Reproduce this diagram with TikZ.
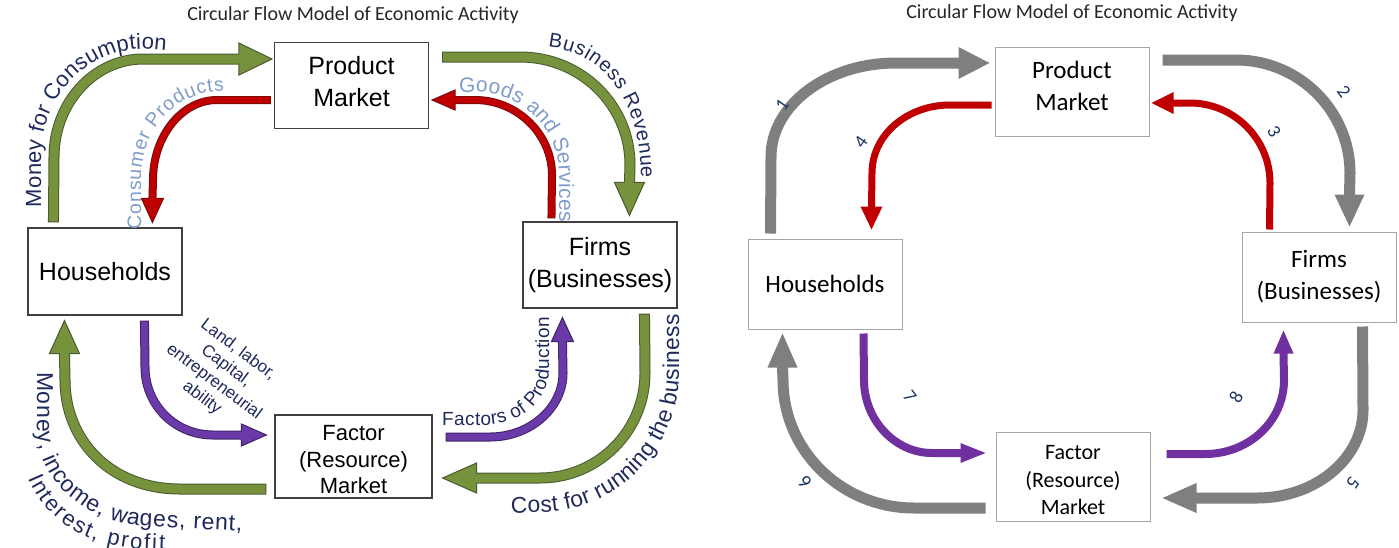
\documentclass[tikz,border=0pt]{standalone}
\usepackage{fontspec}
\setmainfont{Liberation Sans}
\newfontfamily\calfont{Carlito}
\usetikzlibrary{calc,decorations.text}
\definecolor{gfill}{HTML}{76923C}
\definecolor{gline}{HTML}{4A5A30}
\definecolor{rfill}{HTML}{C00000}
\definecolor{rline}{HTML}{7A0A0A}
\definecolor{pfill}{HTML}{6A3AA8}
\definecolor{pline}{HTML}{40226A}
\definecolor{navy}{HTML}{1F2A5C}
\definecolor{lblue}{HTML}{7F9CCB}
\definecolor{greyarr}{HTML}{7F7F7F}
\definecolor{rpurple}{HTML}{7030A0}
\definecolor{numcol}{HTML}{203864}
\newcommand\fs[2]{\fontsize{#1}{#2}\selectfont}
\newcommand\arrhead[5]{\begin{scope}[shift={(#2)},rotate=#3]\filldraw[#1] (0,0) -- (-#5,#4) -- (-#5,-#4) -- cycle;\end{scope}}
% padding to nudge box text
\newcommand\dn[1]{\rule[-#1]{0pt}{#1}}
\newcommand\tp[1]{\rule{0pt}{#1}}
\tikzset{
  gsh/.style={draw=gline, line width=11pt, postaction={draw=gfill, line width=9pt, shorten <=1pt, shorten >=-1.5pt}},
  ghd/.style={fill=gfill, draw=gline, line width=1pt, line join=miter},
  rsh/.style={draw=rline, line width=8pt, postaction={draw=rfill, line width=6pt, shorten <=1pt, shorten >=-1.5pt}},
  rhd/.style={fill=rfill, draw=rline, line width=1pt, line join=miter},
  psh/.style={draw=pline, line width=9pt, postaction={draw=pfill, line width=7pt, shorten <=1pt, shorten >=-1.5pt}},
  phd/.style={fill=pfill, draw=pline, line width=1pt, line join=miter},
  gysh/.style={draw=greyarr, line width=11pt, shorten >=-0.5pt},
  gyhd/.style={fill=greyarr, draw=none},
  rrsh/.style={draw=rfill, line width=7pt, shorten >=-0.5pt},
  rrhd/.style={fill=rfill, draw=none},
  prsh/.style={draw=rpurple, line width=8pt, shorten >=-0.5pt},
  prhd/.style={fill=rpurple, draw=none},
  lbox/.style={draw=black!75, line width=1.1pt, fill=white, minimum width=154pt, minimum height=86pt, align=center, inner sep=0pt, font=\fs{25}{32}},
  rbox/.style={draw=black!35, line width=1pt, fill=white, minimum width=154pt, minimum height=89pt, align=center, inner sep=0pt, font=\calfont\fs{25}{32}},
  ttl/.style={font=\calfont\fs{20}{24}, text=black!85},
  num/.style={font=\calfont\fs{19}{22}, text=numcol},
  curved/.style n args={3}{decorate, decoration={text along path, text={|\fs{#1}{#1}|#2}, text color=#3, text align={fit to path}}},
}
\begin{document}
\begin{tikzpicture}[x=1pt,y=-1pt]
\useasboundingbox[fill=white] (0,0) rectangle (1399,547);
% ---------------- left diagram ----------------
\node[ttl] (titleL) at (353,15) {Circular Flow Model of Economic Activity};
\node[lbox] (pmL) at (351.5,85.5) {Product\\Market\dn{9pt}};
\node[lbox, minimum height=87pt] (hhL) at (105,271.5) {Households};
\node[lbox] (fmL) at (600,265) {Firms\\(Businesses)};
\node[lbox, minimum width=157pt, minimum height=83pt, font=\fs{22}{26.5}] (fcL) at (353.5,456.5) {\tp{22pt}Factor\\(Resource)\\Market};

% G1 money for consumption
\coordinate (g1s) at ($(hhL.north west)+(26,-5)$);
\coordinate (g1t) at ($(pmL.west)+(-2,-26.5)$);
\arrhead{ghd}{g1t}{0}{16}{33}
\draw[gsh] (g1s) -- (54,157) .. controls (54,103) and (94,59) .. (143,59) -- ($(g1t)+(-33,0)$);
% R1 consumer products
\coordinate (r1s) at ($(pmL.west)+(-3,14.5)$);
\coordinate (r1t) at ($(hhL.north west)+(125,-5)$);
\arrhead{rhd}{r1t}{-90}{11}{24}
\draw[rsh] (r1s) -- (217,100) .. controls (182,100) and (153,136) .. (153,180) -- ($(r1t)+(0,-24)$);
% G2 business revenue
\coordinate (g2s) at ($(pmL.east)+(13,-28.5)$);
\coordinate (g2t) at ($(fmL.north west)+(107,-6)$);
\arrhead{ghd}{g2t}{-90}{15}{33}
\draw[gsh] (g2s) -- (520,57) .. controls (581,57) and (630,105) .. (630,165) -- ($(g2t)+(0,-33)$);
% R2 goods and services
\coordinate (r2s) at ($(fmL.north west)+(29,-3)$);
\coordinate (r2t) at ($(pmL.east)+(3,14.5)$);
\arrhead{rhd}{r2t}{180}{10}{23}
\draw[rsh] (r2s) -- (552,175) .. controls (552,134) and (517,100) .. (475,100) -- ($(r2t)+(23,0)$);
% P1 land labor
\coordinate (p1s) at ($(hhL.south west)+(117,5)$);
\coordinate (p1t) at ($(fcL.west)+(-8,-21.5)$);
\arrhead{phd}{p1t}{0}{11}{25}
\draw[psh] (p1s) -- (145,367) .. controls (145,405) and (175,435) .. (213,435) -- ($(p1t)+(-25,0)$);
% P2 factors of production
\coordinate (p2s) at ($(fcL.east)+(13,-19.5)$);
\coordinate (p2t) at ($(fmL.south west)+(40,9)$);
\arrhead{phd}{p2t}{90}{11}{24}
\draw[psh] (p2s) -- (490,437) .. controls (530,437) and (563,408) .. (563,373) -- ($(p2t)+(0,24)$);
% G3 cost
\coordinate (g3s) at ($(fmL.south west)+(122,5)$);
\coordinate (g3t) at ($(fcL.east)+(10,21.5)$);
\arrhead{ghd}{g3t}{180}{15}{34}
\draw[gsh] (g3s) -- (645,373) .. controls (645,431) and (598,478) .. (540,478) -- ($(g3t)+(34,0)$);
% G4 money income
\coordinate (g4s) at ($(fcL.west)+(-8,32.5)$);
\coordinate (g4t) at ($(hhL.south west)+(37,5)$);
\arrhead{ghd}{g4t}{90}{15}{33}
\draw[gsh] (g4s) -- (180,489) .. controls (110,489) and (65,440) .. (65,380) -- ($(g4t)+(0,33)$);

% curved labels
\path[curved={22}{Money for Consumption}{navy}]
  (41,207) -- (41,157) .. controls (41,96) and (88,49) .. (143,49) -- (166,51);
\path[curved={19.5}{Consumer Products}{lblue}]
  (141,229) -- (141,180) .. controls (141,129) and (175,91) .. (224,91);
\path[curved={20}{Business Revenue}{navy}]
  (548,47) .. controls (603,52) and (641,100) .. (641,178);
\path[curved={21}{Goods and Services}{lblue}]
  (459,92) -- (475,92) .. controls (522,92) and (559,129) .. (559,175) -- (559,222);
\path[curved={22.8}{Cost for running the business}{navy}]
  (511,513) -- (540,512) .. controls (617,512) and (679,449) .. (679,373) -- (679,314);
\path[curved={23}{Money, income, wages, rent,}{navy}]
  (37,372) -- (37,425) .. controls (37,480) and (80,518) .. (140,526) -- (242,531);
\path[curved={22}{Interest, profit}{navy}]
  (28,478) .. controls (45,520) and (85,545) .. (140,549) -- (165,550);
\path[curved={19}{Factors of Production}{navy}]
  (442,425) -- (485,425) .. controls (520,425) and (549,400) .. (549,370) -- (549,317);
\node[rotate=-37, align=center, font=\fs{17}{20}, text=navy] (landtxt) at (220,374) {Land, labor,\\Capital,\\entrepreneurial\\ability};

% ---------------- right diagram ----------------
\node[ttl] (titleR) at (1072,13) {Circular Flow Model of Economic Activity};
\node[rbox] (pmR) at (1072,91.5) {Product\\Market\dn{11pt}};
\node[rbox, minimum height=90pt] (hhR) at (825,284) {Households};
\node[rbox, minimum height=90pt] (fmR) at (1319,277) {Firms\\(Businesses)};
\node[rbox, font=\calfont\fs{22}{27.5}] (fcR) at (1073,476.5) {\tp{22pt}Factor\\(Resource)\\Market};

% 1
\coordinate (a1s) at ($(hhR.north west)+(23,-5)$);
\coordinate (a1t) at ($(pmR.west)+(-5,-28.5)$);
\arrhead{gyhd}{a1t}{0}{16}{31}
\draw[gysh] (a1s) -- (771,157) .. controls (771,105) and (827,63) .. (896,63) -- ($(a1t)+(-31,0)$);
% 2
\coordinate (a2s) at ($(pmR.east)+(13,-31.5)$);
\coordinate (a2t) at ($(fmR.north west)+(108,-5)$);
\arrhead{gyhd}{a2t}{-90}{15}{32}
\draw[gysh] (a2s) -- (1236,60) .. controls (1299,60) and (1350,111) .. (1350,173) -- ($(a2t)+(0,-32)$);
% 3
\coordinate (a3s) at ($(fmR.north west)+(28,-2)$);
\coordinate (a3t) at ($(pmR.east)+(2,11.5)$);
\arrhead{rrhd}{a3t}{180}{11}{22}
\draw[rrsh] (a3s) -- (1270,183) .. controls (1270,139) and (1234,103) .. (1190,103) -- ($(a3t)+(22,0)$);
% 4
\coordinate (a4s) at ($(pmR.west)+(-3,13.5)$);
\coordinate (a4t) at ($(hhR.north west)+(124,-9)$);
\arrhead{rrhd}{a4t}{-90}{11}{23}
\draw[rrsh] (a4s) -- (950,105) .. controls (907,105) and (872,135) .. (872,173) -- ($(a4t)+(0,-23)$);
% 7
\coordinate (a7s) at ($(hhR.south west)+(116,4)$);
\coordinate (a7t) at ($(fcR.west)+(-10,-23.5)$);
\arrhead{prhd}{a7t}{0}{10}{25}
\draw[prsh] (a7s) -- (864,380) .. controls (864,420) and (895,453) .. (932,453) -- ($(a7t)+(-25,0)$);
% 8
\coordinate (a8s) at ($(fcR.east)+(16,-22.5)$);
\coordinate (a8t) at ($(fmR.south west)+(42,8)$);
\arrhead{prhd}{a8t}{90}{10}{23}
\draw[prsh] (a8s) -- (1205,454) .. controls (1249,454) and (1284,421) .. (1284,380) -- ($(a8t)+(0,23)$);
% 5
\coordinate (a5s) at ($(fmR.south west)+(121,4)$);
\coordinate (a5t) at ($(fcR.east)+(12,21.5)$);
\arrhead{gyhd}{a5t}{180}{15}{34}
\draw[gysh] (a5s) -- (1363,410) .. controls (1363,458) and (1316,498) .. (1257,498) -- ($(a5t)+(34,0)$);
% 6
\coordinate (a6s) at ($(fcR.west)+(-10,31.5)$);
\coordinate (a6t) at ($(hhR.south west)+(35,4)$);
\arrhead{gyhd}{a6t}{90}{15}{34}
\draw[gysh] (a6s) -- (914,508) .. controls (842,508) and (783,451) .. (783,380) -- ($(a6t)+(0,34)$);

% numbers
\node[num, rotate=55] (n1) at (782,105) {1};
\node[num, rotate=-53] (n2) at (1344,92) {2};
\node[num, rotate=-60] (n3) at (1274,132) {3};
\node[num, rotate=55] (n4) at (861,142) {4};
\node[num, rotate=-126] (n5) at (1353,483) {5};
\node[num, rotate=133] (n6) at (805,482) {6};
\node[num, rotate=-52] (n7) at (910,397) {7};
\node[num, rotate=61] (n8) at (1236,397) {8};
\end{tikzpicture}
\end{document}
